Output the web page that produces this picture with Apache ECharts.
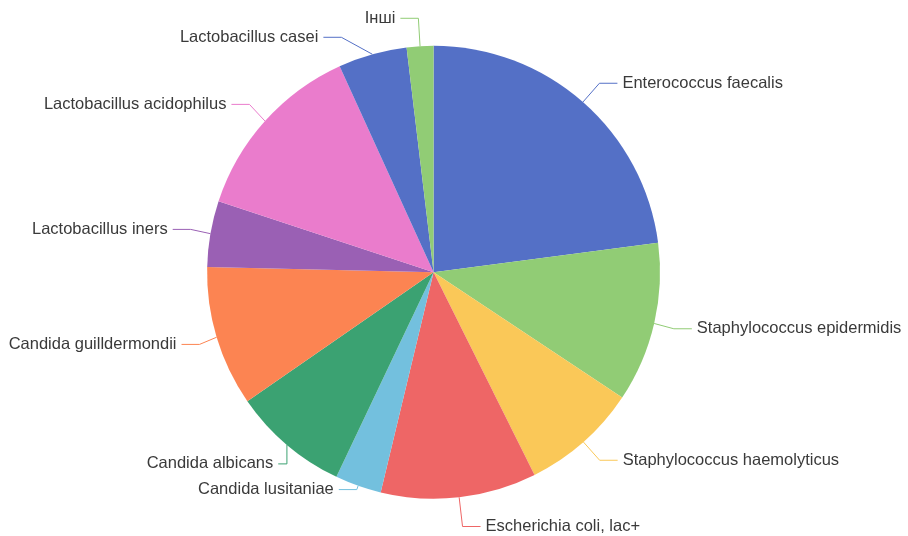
<!DOCTYPE html>
<html><head><meta charset="utf-8">
<script src="https://cdn.jsdelivr.net/npm/echarts@6/dist/echarts.min.js"></script>
<style>html,body{margin:0;padding:0;background:#fff}#c{width:908px;height:536px}</style>
</head><body><div id="c"></div>
<script>
const categories = ["Enterococcus faecalis","Staphylococcus epidermidis","Staphylococcus haemolyticus","Escherichia coli, lac+","Candida lusitaniae","Candida albicans","Candida guilldermondii","Lactobacillus iners","Lactobacillus acidophilus","Lactobacillus casei","Інші"];
const values = [22.9,11.4,8.3,11.1,3.3,8.3,10.0,4.7,13.1,4.9,1.9];
const palette = ['#5470c6','#91cc75','#fac858','#ee6666','#73c0de','#3ba272','#fc8452','#9a60b4','#ea7ccc'];
const chart = echarts.init(document.getElementById('c'));
chart.setOption({
  animation:false,
  color:palette,
  series:[{
    type:'pie',
    center:['47.75%','50.8%'],
    radius:'84.5%',
    startAngle:90,
    data:categories.map((n,i)=>{
      const d={name:n,value:values[i]};
      if(n==='Candida lusitaniae') d.labelLine={length:4};
      if(n==='Інші') d.labelLine={length:28};
      if(n==='Escherichia coli, lac+') d.labelLine={length:30};
      return d;
    }),
    label:{color:'#3a3a3a',fontSize:16.5,fontFamily:'Liberation Sans, Arial, sans-serif',overflow:'none'},
    labelLine:{length:25,length2:18}
  }]
});
</script></body></html>
